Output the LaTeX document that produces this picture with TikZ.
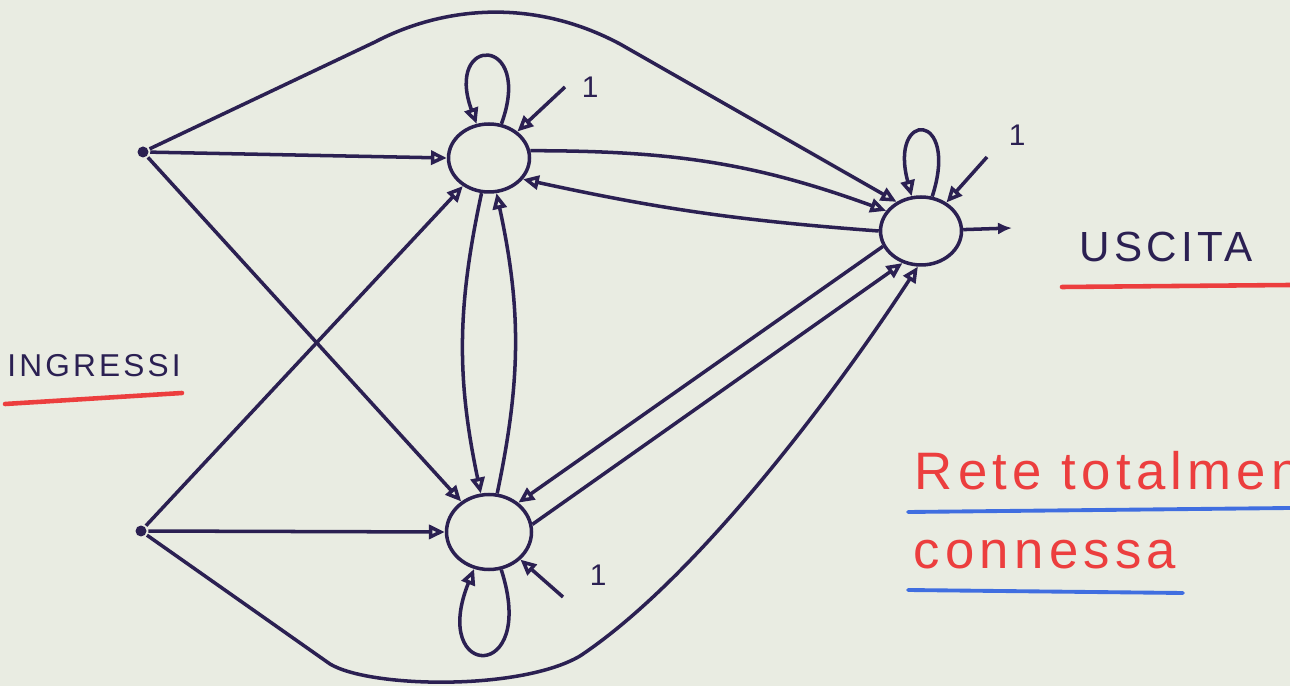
\documentclass[tikz,border=0pt]{standalone}
\usepackage{fontspec}
\setmainfont{Liberation Sans}
\newfontfamily\scritta[LetterSpace=10]{Liberation Sans}
\usetikzlibrary{arrows.meta,shapes.geometric,positioning}
\definecolor{inchiostro}{RGB}{43,32,82}
\definecolor{carta}{RGB}{233,236,226}
\definecolor{rosso}{RGB}{236,62,62}
\definecolor{blu}{RGB}{64,110,224}
\tikzset{every picture/.style={line width=2pt}}

\begin{document}
\begin{tikzpicture}[x=0.02cm, y=0.02cm,
    neuron/.style={ellipse, draw=inchiostro, minimum width=1.62cm, minimum height=1.36cm, inner sep=0pt},
    ingresso/.style={circle, fill=inchiostro, minimum size=0.22cm, inner sep=0pt},
    arr/.style={draw=inchiostro, -{Triangle[open, length=9pt, width=8pt]}},
    lbl/.style={inner sep=0pt, text=inchiostro, font=\fontsize{17}{19}\selectfont},
    titolo/.style={inner sep=0pt, font=\scritta\fontsize{24}{28}\selectfont},
    sottolinea/.style={line width=2.6pt, line cap=round}]
    \useasboundingbox[fill=carta] (0,0) rectangle (1290,686);
    \clip (0,0) rectangle (1290,686);

    % ingressi e neuroni
    \node[ingresso] (x1) at (143,534) {};
    \node[ingresso] (x2) at (141,155) {};
    \node[neuron] (A) at (489,528) {};
    \node[neuron, minimum width=1.7cm, minimum height=1.5cm] (B) at (489,154) {};
    \node[neuron] (C) at (921,455) {};

    % dagli ingressi
    \draw[arr] (x1) -- (A.west);
    \draw[arr] (x1) -- (B);
    \draw[arr] (x1) -- (375,644) .. controls (440,678) and (530,690) .. (620,642) -- (C.130);
    \draw[arr] (x2) -- (B.west);
    \draw[arr] (x2) -- (A);
    \draw[arr] (x2) -- (330,22) .. controls (370,-2) and (520,-5) .. (580,30)
        .. controls (700,110) and (840,300) .. (C.-95);

    % tra i neuroni
    \draw[arr] (A) to[bend right=12] (B);
    \draw[arr] (B) to[bend right=12] (A);
    \draw[arr] (A.10) to[out=0, in=160] (C.150);
    \draw[arr] (C.west) to[bend left=4] (A.-32);
    \draw[arr] (B.10) -- (C.-120);
    \draw[arr] (C.-158) -- (B.45);

    % anelli
    \draw[arr] (A) to[out=70, in=110, min distance=1.9cm] (A);
    \draw[arr] (B) to[out=-72, in=-112, min distance=2.4cm] (B);
    \draw[arr] (C) to[out=72, in=105, min distance=1.8cm] (C);

    % soglie
    \coordinate (bA) at (565,599);
    \coordinate (bB) at (563,89);
    \coordinate (bC) at (987,529);
    \draw[arr] (bA) -- (A);
    \draw[arr] (bB) -- (B);
    \draw[arr] (bC) -- (C);
    \node[lbl, right=3mm of bA] (unoA) {1};
    \node[lbl, above right=2mm and 5mm of bB] (unoB) {1};
    \node[lbl, above right=2mm and 4mm of bC] (unoC) {1};

    % uscita
    \coordinate (out) at (1012,458);
    \draw[inchiostro, -{Latex[length=8pt, width=7pt]}] (C) -- (out);

    % scritte
    \node[titolo, text=inchiostro] (uscita) at (1166,439) {USCITA};
    \draw[rosso, sottolinea] (1062,399) -- (1290,401);
    \node[titolo, text=inchiostro, font=\scritta\fontsize{18}{22}\selectfont] (ingressi) at (94,320) {INGRESSI};
    \draw[rosso, sottolinea] (5,282) -- (182,293);
    \node[inner sep=0pt, anchor=base west, text=rosso, font=\scritta\fontsize{30}{36}\selectfont] (rete) at (913,196) {Rete totalmente};
    \draw[blu, sottolinea, line width=2.2pt] (908,174) -- (1290,178);
    \node[inner sep=0pt, anchor=base west, text=rosso, font=\scritta\fontsize{30}{36}\selectfont] (connessa) at (912,117) {connessa};
    \draw[blu, sottolinea, line width=2.2pt] (908,96) -- (1183,93);
\end{tikzpicture}
\end{document}
